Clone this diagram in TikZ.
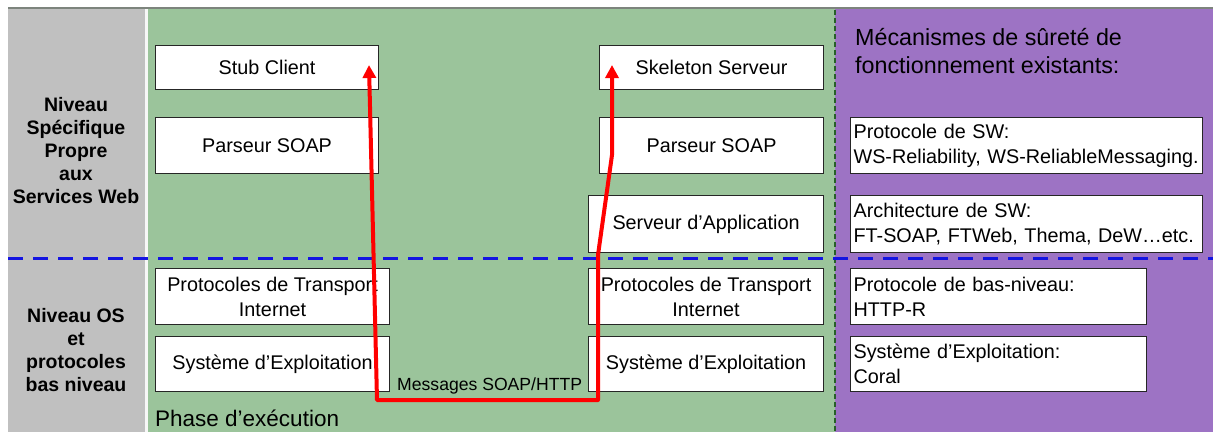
\documentclass[tikz,border=0pt]{standalone}
\usepackage{fontspec}
\setmainfont{Liberation Sans}
\usetikzlibrary{arrows.meta}
\definecolor{panelgray}{RGB}{192,192,192}
\definecolor{panelgreen}{RGB}{155,196,155}
\definecolor{panelpurple}{RGB}{157,115,196}
\definecolor{sepblue}{RGB}{20,20,225}
\definecolor{sepgreen}{RGB}{40,95,40}
\definecolor{topedge}{RGB}{125,132,125}
\begin{document}
\begin{tikzpicture}[x=1pt,y=-1pt,
  box/.style={draw=black!85, line width=1.1pt, fill=white, inner sep=0pt,
    anchor=north west, align=center, font=\fontsize{19.8}{25}\selectfont},
  lbox/.style={box, align=left, inner xsep=3pt, inner ysep=0pt},
  sidelabel/.style={align=center, inner sep=0pt, font=\bfseries\fontsize{19.5}{23}\selectfont},
  flow/.style={draw=red, line width=4pt, line join=round,
    {Triangle[length=13pt,width=13pt]}-{Triangle[length=13pt,width=13pt]}},
  blueline/.style={draw=sepblue, line width=3pt, dash pattern=on 15pt off 10pt},
  greenline/.style={draw=sepgreen, line width=1.3pt, dash pattern=on 5pt off 3pt}]
\useasboundingbox (0,0) rectangle (1213,432);
\fill[white] (0,0) rectangle (1213,432);
% panels
\fill[panelgray] (8,7) rectangle (145,432);
\fill[panelgreen] (148,7) rectangle (835,432);
\fill[panelpurple] (835,7) rectangle (1213,432);
\fill[white!88!panelgray] (145,7) rectangle (148,432);
\draw[topedge, line width=2.5pt] (8,8) -- (1213,8);
% separators
\draw[greenline] (835,10) -- (835,432);
\draw[blueline] (8,258) -- (1213,258);
% side labels
\node[sidelabel] (lvlws) at (76,151) {Niveau\\Spécifique\\Propre\\aux\\Services Web};
\node[sidelabel] (lvlos) at (76,350) {Niveau OS\\et\\protocoles\\bas niveau};
% client column
\node[box, minimum width=223pt, minimum height=44pt] (stub) at (155,45) {Stub Client};
\node[box, minimum width=223pt, minimum height=56pt] (parsL) at (155,117) {Parseur SOAP};
\node[box, minimum width=234pt, minimum height=56pt] (trL) at (155,268) {Protocoles de Transport\\Internet};
\node[box, minimum width=234pt, minimum height=55pt] (osL) at (155,336) {Système d’Exploitation};
% server column
\node[box, minimum width=224pt, minimum height=44pt] (skel) at (599,45) {Skeleton Serveur};
\node[box, minimum width=224pt, minimum height=56pt] (parsR) at (599,117) {Parseur SOAP};
\node[box, minimum width=235pt, minimum height=57pt] (app) at (588,195) {Serveur d’Application};
\node[box, minimum width=235pt, minimum height=56pt] (trR) at (588,268) {Protocoles de Transport\\Internet};
\node[box, minimum width=235pt, minimum height=55pt] (osR) at (588,336) {Système d’Exploitation};
% mechanisms column
\node[anchor=north west, inner sep=0pt, align=left, font=\fontsize{23.3}{28}\selectfont] (mtitle) at (855,28)
  {Mécanismes de sûreté de\\fonctionnement existants:};
\node[lbox, text width=346pt, minimum height=56pt] (mws) at (850,117) {Protocole de SW:\\WS-Reliability, WS-ReliableMessaging.};
\node[lbox, text width=346pt, minimum height=57pt] (march) at (850,195) {Architecture de SW:\\FT-SOAP, FTWeb, Thema, DeW…etc.};
\node[lbox, text width=290pt, minimum height=56pt] (mhttp) at (850,268) {Protocole de bas-niveau:\\HTTP-R};
\node[lbox, text width=290pt, minimum height=55pt] (mos) at (850,336) {Système d’Exploitation:\\Coral};
% texts
\node[anchor=base west, inner sep=0pt, font=\fontsize{17.6}{21}\selectfont] (msg) at (397,390) {Messages SOAP/HTTP};
\node[anchor=base west, inner sep=0pt, font=\fontsize{22.5}{27}\selectfont] (phase) at (155,426) {Phase d’exécution};
% red message path
\coordinate (tipL) at (369,65);
\coordinate (botL) at (377,400);
\coordinate (botR) at (598,400);
\coordinate (midR) at (598,255);
\coordinate (kneeR) at (612,155);
\coordinate (tipR) at (612,65);
\draw[flow] (tipL) -- (botL) -- (botR) -- (midR) -- (kneeR) -- (tipR);
\end{tikzpicture}
\end{document}
